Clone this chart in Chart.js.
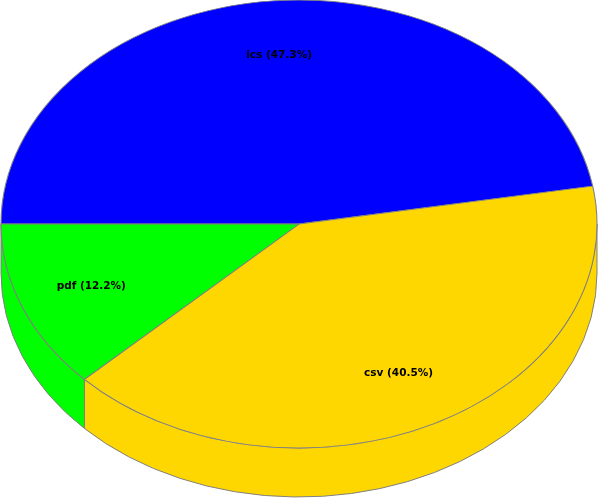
<!DOCTYPE html>
<html>
<head>
<meta charset="utf-8">
<script src="https://cdn.jsdelivr.net/npm/chart.js@4/dist/chart.umd.min.js"></script>
<style>
  html, body { margin: 0; padding: 0; background: #ffffff; }
  #wrap { width: 600px; height: 500px; position: relative; }
</style>
</head>
<body>
<div id="wrap"><canvas id="pieChart"></canvas></div>
<script>
// Slice data, in drawing order (clockwise from 9 o'clock)
const categories = ['ics', 'csv', 'pdf'];
const shares = [47.3, 40.5, 12.2];
const sliceColors = ['#0000FF', '#FFD700', '#00FF00'];

// Ellipse the flat pie gets squashed into, plus side depth
const ELLIPSE = { cx: 299, cy: 224, rx: 298, ry: 224, depth: 49 };
const OUTLINE = '#808080';

// Squash the round pie into an ellipse and add a 3D side wall
const pie3d = {
  id: 'pie3d',
  beforeDatasetsDraw(chart) {
    const ctx = chart.ctx;
    const arcs = chart.getDatasetMeta(0).data;
    const e = ELLIPSE;

    // side walls (front half only: canvas angles 0..PI)
    arcs.forEach((arc, i) => {
      let s = arc.startAngle, en = arc.endAngle;
      // normalise so that s lies in (-PI, PI]
      while (s > Math.PI) { s -= 2 * Math.PI; en -= 2 * Math.PI; }
      while (s <= -Math.PI) { s += 2 * Math.PI; en += 2 * Math.PI; }
      const a = Math.max(s, 0);
      const b = Math.min(en, Math.PI);
      if (b <= a) return;
      ctx.save();
      ctx.beginPath();
      ctx.ellipse(e.cx, e.cy, e.rx, e.ry, 0, a, b, false);
      ctx.ellipse(e.cx, e.cy + e.depth, e.rx, e.ry, 0, b, a, true);
      ctx.closePath();
      ctx.fillStyle = sliceColors[i];
      ctx.fill();
      ctx.lineWidth = 1;
      ctx.strokeStyle = OUTLINE;
      ctx.stroke();
      ctx.restore();
    });

    // top face: scale the library's circle onto the ellipse
    const first = arcs[0];
    const r = first.outerRadius;
    ctx.save();
    ctx.translate(e.cx, e.cy);
    ctx.scale(e.rx / r, e.ry / r);
    ctx.translate(-first.x, -first.y);
  },
  afterDatasetsDraw(chart) {
    const ctx = chart.ctx;
    ctx.restore();

    // section labels
    const e = ELLIPSE;
    const arcs = chart.getDatasetMeta(0).data;
    ctx.save();
    ctx.font = 'bold 10.5px "DejaVu Sans", sans-serif';
    ctx.fillStyle = '#000000';
    ctx.textAlign = 'center';
    ctx.textBaseline = 'middle';
    arcs.forEach((arc, i) => {
      const mid = (arc.startAngle + arc.endAngle) / 2;
      const x = e.cx - 1 + e.rx * 0.748 * Math.cos(mid);
      const y = e.cy - 1 + e.ry * 0.752 * Math.sin(mid);
      ctx.fillText(categories[i] + ' (' + shares[i].toFixed(1) + '%)', x, y);
    });
    ctx.restore();
  }
};

new Chart(document.getElementById('pieChart'), {
  type: 'pie',
  data: {
    labels: categories,
    datasets: [{
      data: shares,
      backgroundColor: sliceColors,
      borderColor: OUTLINE,
      borderWidth: 0.9,
      borderAlign: 'center'
    }]
  },
  options: {
    responsive: true,
    maintainAspectRatio: false,
    animation: false,
    rotation: -90,
    layout: { padding: 0 },
    plugins: {
      legend: { display: false },
      tooltip: { enabled: false },
      title: { display: false }
    }
  },
  plugins: [pie3d]
});
</script>
</body>
</html>
